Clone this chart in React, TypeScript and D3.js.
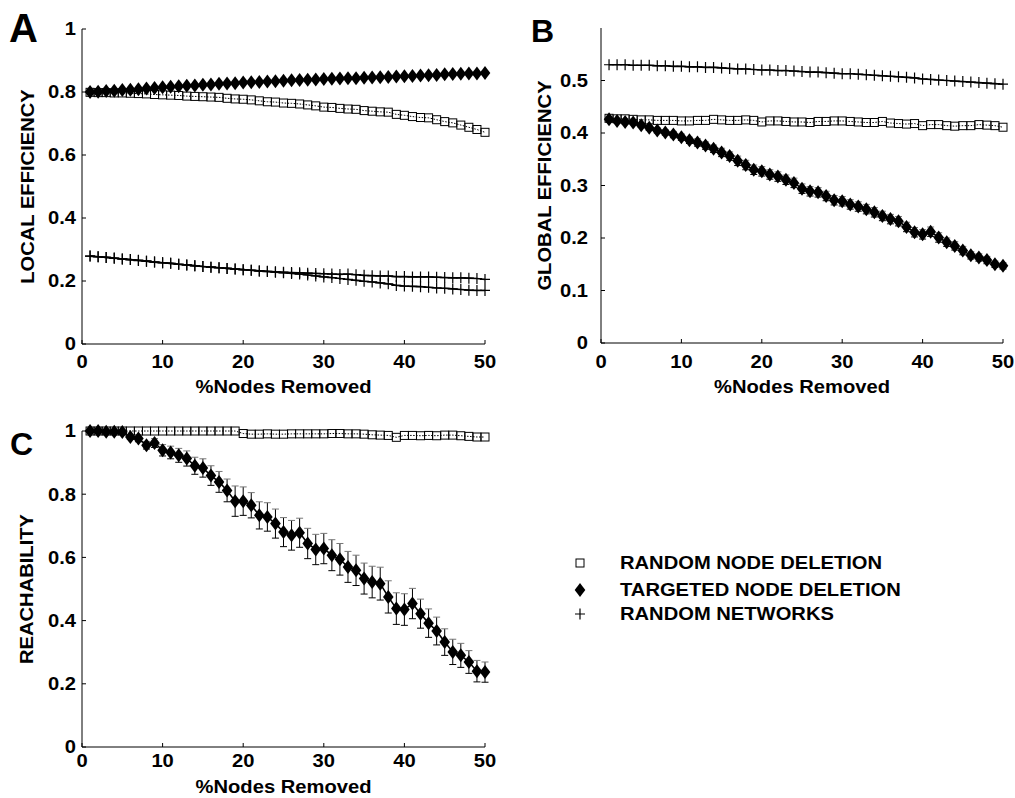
import React from "react";
import * as d3 from "d3";

// % of nodes removed: 1..50
const removed = d3.range(1, 51);

// A: local efficiency
const localTargeted = [
  0.800, 0.801, 0.803, 0.804, 0.806, 0.807, 0.809, 0.811, 0.813, 0.815,
  0.817, 0.818, 0.820, 0.821, 0.823, 0.824, 0.826, 0.827, 0.828, 0.830,
  0.831, 0.832, 0.833, 0.834, 0.836, 0.837, 0.838, 0.839, 0.840, 0.841,
  0.842, 0.843, 0.844, 0.844, 0.845, 0.846, 0.847, 0.848, 0.849, 0.850,
  0.851, 0.852, 0.853, 0.854, 0.856, 0.857, 0.858, 0.859, 0.859, 0.860,
];
const localRandom = [
  0.799, 0.798, 0.798, 0.797, 0.797, 0.796, 0.795, 0.794, 0.792, 0.791,
  0.790, 0.789, 0.787, 0.786, 0.785, 0.784, 0.783, 0.780, 0.778, 0.777,
  0.775, 0.772, 0.769, 0.768, 0.765, 0.764, 0.762, 0.759, 0.756, 0.752,
  0.751, 0.748, 0.746, 0.745, 0.741, 0.739, 0.737, 0.736, 0.729, 0.726,
  0.722, 0.719, 0.718, 0.712, 0.706, 0.702, 0.695, 0.688, 0.681, 0.672,
];
const localNetRandom = [
  0.279, 0.277, 0.275, 0.273, 0.270, 0.268, 0.266, 0.263, 0.260, 0.258,
  0.256, 0.253, 0.251, 0.249, 0.246, 0.244, 0.242, 0.240, 0.238, 0.236,
  0.234, 0.232, 0.231, 0.229, 0.228, 0.227, 0.226, 0.225, 0.224, 0.223,
  0.222, 0.221, 0.222, 0.220, 0.218, 0.217, 0.216, 0.216, 0.214, 0.214,
  0.213, 0.213, 0.213, 0.212, 0.211, 0.210, 0.210, 0.209, 0.208, 0.205,
];
const localNetTargeted = [
  0.279, 0.277, 0.275, 0.272, 0.270, 0.268, 0.265, 0.263, 0.260, 0.258,
  0.256, 0.253, 0.251, 0.248, 0.246, 0.244, 0.242, 0.240, 0.238, 0.236,
  0.234, 0.232, 0.230, 0.228, 0.226, 0.224, 0.222, 0.219, 0.216, 0.213,
  0.211, 0.208, 0.205, 0.202, 0.199, 0.197, 0.194, 0.191, 0.186, 0.184,
  0.183, 0.182, 0.180, 0.178, 0.177, 0.175, 0.173, 0.171, 0.170, 0.170,
];

// B: global efficiency
const globalTargeted = [
  0.426, 0.423, 0.421, 0.420, 0.415, 0.410, 0.405, 0.401, 0.397, 0.392,
  0.386, 0.382, 0.376, 0.370, 0.363, 0.356, 0.347, 0.339, 0.330, 0.327,
  0.321, 0.317, 0.311, 0.305, 0.294, 0.289, 0.287, 0.280, 0.272, 0.270,
  0.264, 0.260, 0.255, 0.249, 0.242, 0.236, 0.232, 0.221, 0.211, 0.207,
  0.212, 0.201, 0.192, 0.185, 0.176, 0.167, 0.163, 0.158, 0.150, 0.147,
];
const globalTargetedErr = [
  0.003, 0.003, 0.004, 0.004, 0.004, 0.005, 0.005, 0.005, 0.006, 0.006,
  0.006, 0.007, 0.007, 0.007, 0.008, 0.008, 0.009, 0.009, 0.009, 0.009,
  0.009, 0.009, 0.009, 0.009, 0.009, 0.009, 0.009, 0.009, 0.009, 0.009,
  0.009, 0.009, 0.009, 0.009, 0.009, 0.009, 0.009, 0.009, 0.009, 0.009,
  0.009, 0.009, 0.008, 0.008, 0.008, 0.007, 0.007, 0.007, 0.006, 0.006,
];
const globalRandom = [
  0.428, 0.427, 0.427, 0.426, 0.425, 0.425, 0.424, 0.424, 0.424, 0.423,
  0.423, 0.424, 0.424, 0.426, 0.425, 0.424, 0.424, 0.425, 0.424, 0.421,
  0.423, 0.423, 0.422, 0.421, 0.421, 0.420, 0.422, 0.422, 0.423, 0.423,
  0.422, 0.421, 0.420, 0.420, 0.422, 0.419, 0.418, 0.417, 0.418, 0.414,
  0.416, 0.416, 0.414, 0.413, 0.414, 0.414, 0.416, 0.415, 0.414, 0.411,
];
const globalNet = [
  0.530, 0.530, 0.530, 0.529, 0.529, 0.529, 0.528, 0.528, 0.527, 0.527,
  0.526, 0.526, 0.525, 0.525, 0.524, 0.523, 0.522, 0.522, 0.521, 0.520,
  0.520, 0.519, 0.519, 0.518, 0.517, 0.516, 0.516, 0.515, 0.514, 0.513,
  0.513, 0.512, 0.511, 0.510, 0.509, 0.508, 0.507, 0.506, 0.505, 0.503,
  0.502, 0.501, 0.500, 0.499, 0.498, 0.497, 0.496, 0.495, 0.494, 0.493,
];

// C: reachability
const reachTargeted = [
  1.000, 1.000, 0.998, 0.998, 0.997, 0.981, 0.976, 0.955, 0.962, 0.939,
  0.932, 0.923, 0.913, 0.890, 0.883, 0.859, 0.839, 0.812, 0.778, 0.778,
  0.765, 0.733, 0.728, 0.707, 0.680, 0.670, 0.678, 0.644, 0.625, 0.628,
  0.607, 0.594, 0.570, 0.559, 0.533, 0.522, 0.517, 0.475, 0.438, 0.435,
  0.454, 0.422, 0.392, 0.367, 0.332, 0.301, 0.290, 0.269, 0.240, 0.237,
];
const reachTargetedErr = [
  0.002, 0.002, 0.003, 0.004, 0.005, 0.008, 0.010, 0.012, 0.014, 0.018,
  0.020, 0.022, 0.024, 0.027, 0.029, 0.031, 0.033, 0.036, 0.048, 0.045,
  0.040, 0.043, 0.045, 0.046, 0.046, 0.047, 0.046, 0.048, 0.048, 0.048,
  0.049, 0.050, 0.049, 0.048, 0.049, 0.050, 0.052, 0.051, 0.050, 0.050,
  0.048, 0.046, 0.045, 0.044, 0.042, 0.040, 0.038, 0.036, 0.034, 0.032,
];
const reachRandom = [
  1.000, 1.000, 1.000, 1.000, 1.000, 1.000, 1.000, 1.000, 1.000, 1.000,
  1.000, 1.000, 1.000, 1.000, 1.000, 1.000, 1.000, 1.000, 1.000, 0.992,
  0.990, 0.990, 0.991, 0.990, 0.990, 0.991, 0.991, 0.991, 0.991, 0.991,
  0.992, 0.992, 0.991, 0.991, 0.990, 0.988, 0.987, 0.986, 0.980, 0.986,
  0.986, 0.985, 0.986, 0.985, 0.987, 0.987, 0.985, 0.983, 0.981, 0.981,
];

const xTicks = [0, 10, 20, 30, 40, 50];
const yTicksUnit = [0, 0.2, 0.4, 0.6, 0.8, 1];
const yTickLabelsUnit = ["0", "0.2", "0.4", "0.6", "0.8", "1"];
const yTicksGlobal = [0, 0.1, 0.2, 0.3, 0.4, 0.5];
const yTickLabelsGlobal = ["0", "0.1", "0.2", "0.3", "0.4", "0.5"];

const legendLabels = ["RANDOM NODE DELETION", "TARGETED NODE DELETION", "RANDOM NETWORKS"];
const legendMarkers = ["square", "diamond", "plus"];

const FONT = "'Liberation Sans', Arial, Helvetica, sans-serif";

function Txt({ x, y, children, size = 18, anchor = "middle", rotate = 0, sx = 1.12, dy = "0" }) {
  return (
    <g transform={`translate(${x},${y}) rotate(${rotate}) scale(${sx},1)`}>
      <text fontFamily={FONT} fontWeight="bold" fontSize={size} textAnchor={anchor} dy={dy} fill="#000">
        {children}
      </text>
    </g>
  );
}

function Marker({ type, x, y }) {
  if (type === "square")
    return <rect x={x - 4} y={y - 4} width={8} height={8} fill="none" stroke="#000" strokeWidth={1} />;
  if (type === "diamond")
    return <path d={`M${x},${y - 7}L${x + 5.3},${y}L${x},${y + 7}L${x - 5.3},${y}Z`} fill="#000" />;
  return (
    <path d={`M${x - 5},${y}H${x + 5}M${x},${y - 5.5}V${y + 5.5}`} stroke="#000" strokeWidth={1.2} fill="none" />
  );
}

function Panel({ left, right, top, bottom, yMax, yTicks, yTickLabels, letter, letterX, letterY, letterSize,
  yLabel, yLabelX, tickLabelRight, xTickBase, xLabelBase, series }) {
  const x = d3.scaleLinear().domain([0, 50]).range([left, right]);
  const y = d3.scaleLinear().domain([0, yMax]).range([bottom, top]);
  const line = d3.line<number>().x((d, i) => x(removed[i])).y((d) => y(d));

  return (
    <g>
      {series.map((s, si) => (
        <g key={si}>
          <path d={line(s.values) ?? ""} fill="none" stroke="#000"
            strokeWidth={s.marker === "square" ? 1 : 1.6}
            strokeDasharray={s.marker === "square" ? "1.5,1.5" : undefined} />
          {s.err && s.values.map((v, i) => {
            const cx = x(removed[i]);
            const y1 = y(v + s.err[i]);
            const y2 = y(v - s.err[i]);
            return (
              <g key={i}>
                <path d={`M${cx},${y1}V${y2}`} stroke="#000" strokeWidth={1} />
                <path d={`M${cx - 3.5},${y1}H${cx + 3.5}`} stroke="#777" strokeWidth={1} />
                <path d={`M${cx - 3.5},${y2}H${cx + 3.5}`} stroke="#000" strokeWidth={1} />
              </g>
            );
          })}
          {s.values.map((v, i) => (
            <Marker key={i} type={s.marker} x={x(removed[i])} y={y(v)} />
          ))}
        </g>
      ))}

      {/* axes */}
      <path d={`M${left},${y(yMax)}V${bottom}H${right}`} fill="none" stroke="#000" strokeWidth={1} />
      {yTicks.map((t, i) => (
        <g key={"y" + i}>
          <path d={`M${left},${y(t)}H${left + 4}`} stroke="#000" strokeWidth={1} />
          <Txt x={tickLabelRight} y={y(t)} anchor="end" dy="0.36em">{yTickLabels[i]}</Txt>
        </g>
      ))}
      {xTicks.map((t) => (
        <g key={"x" + t}>
          <path d={`M${x(t)},${bottom}V${bottom - 4}`} stroke="#000" strokeWidth={1} />
          <Txt x={x(t)} y={xTickBase}>{String(t)}</Txt>
        </g>
      ))}
      <Txt x={(left + right) / 2} y={xLabelBase}>%Nodes Removed</Txt>
      <Txt x={yLabelX} y={(top + bottom) / 2} rotate={-90} dy="0.36em">{yLabel}</Txt>
      <Txt x={letterX} y={letterY} size={letterSize} anchor="start" sx={1}>{letter}</Txt>
    </g>
  );
}

export default function App() {
  return (
    <svg width={1015} height={798} style={{ position: "absolute", left: 0, top: 0, background: "#fff" }}>
      <rect width={1015} height={798} fill="#fff" />
      <Panel left={82} right={485} top={29} bottom={344} yMax={1}
        yTicks={yTicksUnit} yTickLabels={yTickLabelsUnit}
        letter="A" letterX={9} letterY={42} letterSize={40}
        yLabel="LOCAL EFFICIENCY" yLabelX={28} tickLabelRight={76} xTickBase={368} xLabelBase={393}
        series={[
          { values: localRandom, marker: "square" },
          { values: localNetRandom, marker: "plus" },
          { values: localNetTargeted, marker: "plus" },
          { values: localTargeted, marker: "diamond" },
        ]} />
      <Panel left={601} right={1003} top={28} bottom={343} yMax={0.6}
        yTicks={yTicksGlobal} yTickLabels={yTickLabelsGlobal}
        letter="B" letterX={531} letterY={42} letterSize={32}
        yLabel="GLOBAL EFFICIENCY" yLabelX={545} tickLabelRight={588} xTickBase={368} xLabelBase={393}
        series={[
          { values: globalRandom, marker: "square" },
          { values: globalNet, marker: "plus" },
          { values: globalTargeted, err: globalTargetedErr, marker: "diamond" },
        ]} />
      <Panel left={82} right={485} top={431} bottom={747} yMax={1}
        yTicks={yTicksUnit} yTickLabels={yTickLabelsUnit}
        letter="C" letterX={10} letterY={455} letterSize={32}
        yLabel="REACHABILITY" yLabelX={27} tickLabelRight={76} xTickBase={767} xLabelBase={793}
        series={[
          { values: reachRandom, marker: "square" },
          { values: reachTargeted, err: reachTargetedErr, marker: "diamond" },
        ]} />
      {legendLabels.map((l, i) => {
        const ly = [563, 590, 614][i];
        return (
          <g key={l}>
            <Marker type={legendMarkers[i]} x={580} y={ly} />
            <Txt x={620} y={ly} anchor="start" dy="0.36em">{l}</Txt>
          </g>
        );
      })}
    </svg>
  );
}
